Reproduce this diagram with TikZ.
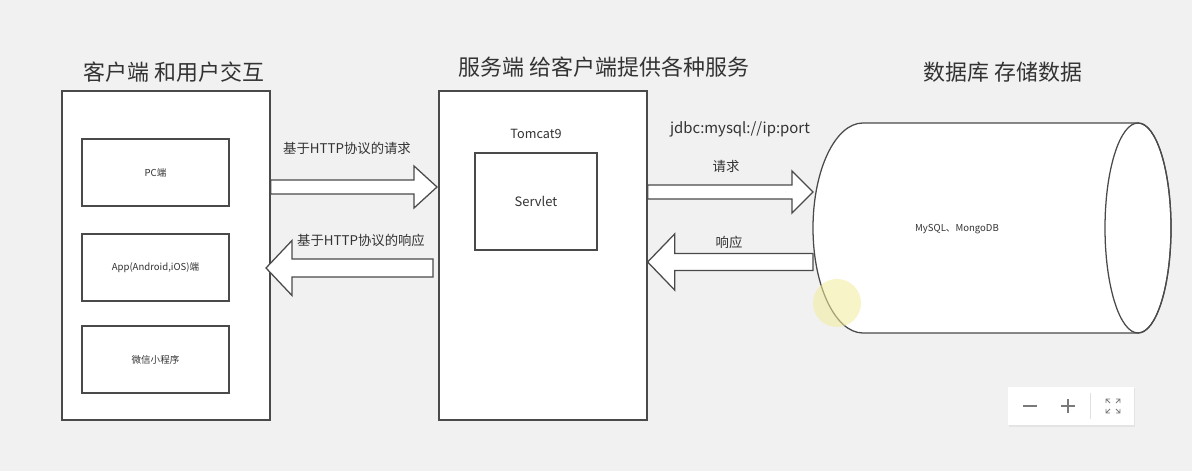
\documentclass[tikz,border=0pt]{standalone}
\usepackage{fontspec}
\setmainfont{Noto Sans CJK SC}
\usepackage{xcolor}
\usepackage{tikz}
\usetikzlibrary{calc}

\definecolor{canvas}{HTML}{F1F1F1}
\definecolor{edge}{HTML}{4A4A4A}
\definecolor{ink}{HTML}{333333}
\definecolor{icon}{HTML}{7A7A7A}
\definecolor{glow}{HTML}{F2EC9A}

% block arrow pointing right: tail, tip, shaft half, head half, head length
\newcommand{\rightblock}[5]{%
  \draw[blk] ($(#1)+(0,#3)$) -- ($(#2)+(-#5,#3)$) -- ($(#2)+(-#5,#4)$) -- (#2)
    -- ($(#2)+(-#5,-#4)$) -- ($(#2)+(-#5,-#3)$) -- ($(#1)+(0,-#3)$) -- cycle;}
% block arrow pointing left
\newcommand{\leftblock}[5]{%
  \draw[blk] ($(#1)+(0,#3)$) -- ($(#2)+(#5,#3)$) -- ($(#2)+(#5,#4)$) -- (#2)
    -- ($(#2)+(#5,-#4)$) -- ($(#2)+(#5,-#3)$) -- ($(#1)+(0,-#3)$) -- cycle;}

\begin{document}
\begin{tikzpicture}[x=0.025cm, y=0.025cm,
    panel/.style 2 args={rectangle, draw=edge, fill=white, line width=0.9pt, inner sep=0pt,
                  minimum width=#1*0.025cm, minimum height=#2*0.025cm},
    heading/.style={font=\fontsize{15.6}{18}\selectfont, text=ink},
    arrowlabel/.style={font=\fontsize{9.5}{11}\selectfont, text=ink},
    itemtext/.style={font=\fontsize{6.8}{8}\selectfont, text=ink},
    blk/.style={draw=edge, fill=white, line width=0.9pt, line join=miter},
]
\fill[canvas] (0,0) rectangle (1192,-471);
\useasboundingbox (0,0) rectangle (1192,-471);

% headings
\node[heading] (hclient) at (174,-72)  {客户端 和用户交互};
\node[heading] (hserver) at (604,-67)  {服务端 给客户端提供各种服务};
\node[heading] (hdb)     at (1003,-72) {数据库 存储数据};

% client side
\node[panel={208}{329}] (client) at (166,-255.5) {};
\node[panel={147}{67}, itemtext] (pc)  at (155.5,-172.5) {PC端};
\node[panel={147}{67}, itemtext] (app) at (155.5,-267.5) {App(Android,iOS)端};
\node[panel={147}{67}, itemtext] (wx)  at (155.5,-359.5) {微信小程序};

% server side
\node[panel={208}{329}] (server) at (543,-255.5) {};
\node[font=\fontsize{9}{11}\selectfont, text=ink] (tomcat) at (536,-134) {Tomcat9};
\node[panel={122}{97}, font=\fontsize{9.2}{11}\selectfont, text=ink] (servlet) at (536,-201.5) {Servlet};

% database
\draw[blk] (863,-123) -- (1138,-123) arc[start angle=90, end angle=-90, x radius=33, y radius=105]
  -- (863,-333) arc[start angle=270, end angle=90, x radius=50, y radius=105] -- cycle;
\draw[edge, line width=0.9pt] (1138,-228) ellipse [x radius=33, y radius=105];
\node[itemtext] (db) at (957,-229) {MySQL、MongoDB};
\coordinate (dbin)  at (813,-192);
\coordinate (dbout) at (813,-262);

% client <-> server
\coordinate (req1)  at (client.east |- 0,-187);
\coordinate (req1t) at (437,-187);
\coordinate (rsp1)  at (433,-268);
\coordinate (rsp1t) at (266,-268);
\rightblock{req1}{req1t}{7}{21}{23}
\leftblock{rsp1}{rsp1t}{9}{27.5}{26}
\node[arrowlabel] (lreq1) at (347,-148) {基于HTTP协议的请求};
\node[arrowlabel] (lrsp1) at (361,-240) {基于HTTP协议的响应};

% server <-> database
\coordinate (req2)  at (server.east |- 0,-192);
\coordinate (rsp2t) at (server.east |- 0,-262);
\rightblock{req2}{dbin}{7}{21}{21}
\leftblock{dbout}{rsp2t}{8.5}{28}{27}
\node[font=\fontsize{10.6}{12}\selectfont, text=ink] (jdbc) at (740,-129) {jdbc:mysql://ip:port};
\node[arrowlabel] (lreq2) at (726,-166) {请求};
\node[arrowlabel] (lrsp2) at (729,-242) {响应};

% pointer highlight
\fill[glow, opacity=0.55] (837,-303) circle [radius=24];

% zoom control
\fill[black, opacity=0.05] (1009,-388) rectangle (1135,-427);
\node[rectangle, fill=white, inner sep=0pt, minimum width=126*0.025cm,
      minimum height=38*0.025cm] (zoombar) at (1071,-406) {};
\draw[icon, line width=0.8pt] (1023,-406) -- (1037,-406);
\draw[icon, line width=0.8pt] (1061,-406) -- (1075,-406) (1068,-399) -- (1068,-413);
\draw[black!12, line width=0.6pt] (1090,-393) -- (1090,-419);
\draw[icon, line width=0.6pt]
  (1106,-403) -- (1106,-399) -- (1110,-399) (1106,-399) -- (1110,-403)
  (1120,-403) -- (1120,-399) -- (1116,-399) (1120,-399) -- (1116,-403)
  (1106,-409) -- (1106,-413) -- (1110,-413) (1106,-413) -- (1110,-409)
  (1120,-409) -- (1120,-413) -- (1116,-413) (1120,-413) -- (1116,-409);
\end{tikzpicture}
\end{document}
